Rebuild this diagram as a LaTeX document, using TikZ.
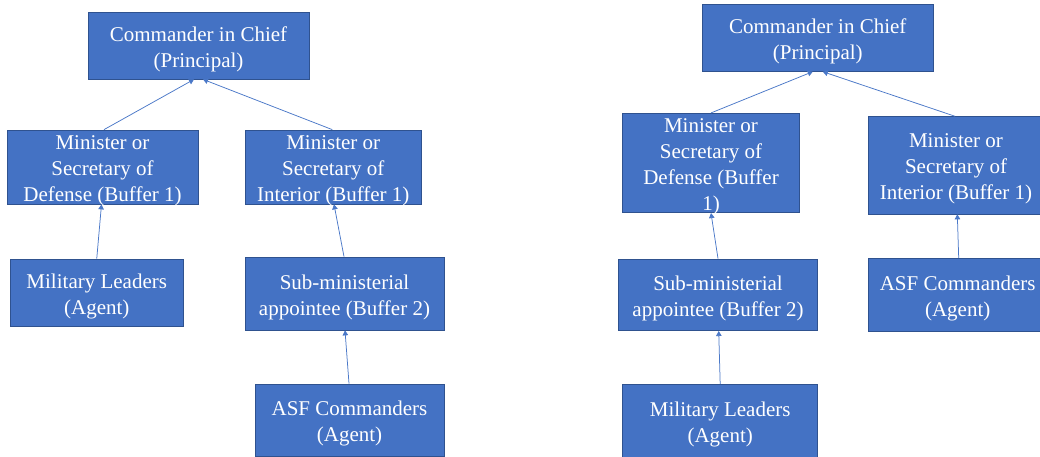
\documentclass[tikz,border=0pt]{standalone}
\usepackage{fontspec}
\setmainfont{Liberation Serif}
\usetikzlibrary{arrows.meta}
\definecolor{boxfill}{HTML}{4472C4}
\definecolor{boxline}{HTML}{2F528F}
\definecolor{linkcol}{HTML}{4A78C8}
\tikzset{
  role/.style={draw=boxline, fill=boxfill, line width=0.75pt, inner sep=0pt},
  roletext/.style={inner sep=0pt, text=white, align=center, yshift=-3.5pt,
    font=\fontsize{21}{26}\selectfont},
  link/.style={draw=linkcol, line width=0.75pt,
    -{Triangle[width=5.5pt,length=5pt]}}
}
% filled box, its text set slightly below the geometric centre
\newcommand{\rolebox}[5]{%
  \node[role, minimum width=#3pt, minimum height=#4pt,
        label={[roletext]center:{#5}}] (#1) at (#2) {};}
\begin{document}
\begin{tikzpicture}[x=1pt,y=-1pt]
\useasboundingbox (0,0) rectangle (1040,457);
\clip (0,0) rectangle (1040,457);
\fill[white] (0,0) rectangle (1040,457);

% ---- left hierarchy ----
\rolebox{cinc1}{198.5,45.5}{221}{67}{Commander in Chief\\(Principal)}
\rolebox{mdef1}{102.5,167}{191}{74}{Minister or\\Secretary of\\Defense (Buffer 1)}
\rolebox{mint1}{333.25,167}{176.5}{74}{Minister or\\Secretary of\\Interior (Buffer 1)}
\rolebox{mil1}{96.75,292.75}{173.5}{67.5}{Military Leaders\\(Agent)}
\rolebox{sub1}{344.5,293.5}{199}{73}{Sub-ministerial\\appointee (Buffer 2)}
\rolebox{asf1}{349.5,420}{189}{72}{ASF Commanders\\(Agent)}

\draw[link] ([xshift=1.5pt]mdef1.north) -- ([xshift=-4.5pt]cinc1.south);
\draw[link] ([xshift=-1pt]mint1.north) -- ([xshift=4.5pt]cinc1.south);
\draw[link] (mil1.north) -- ([xshift=-1pt]mdef1.south);
\draw[link] ([xshift=-0.5pt]sub1.north) -- ([xshift=0.75pt]mint1.south);
\draw[link] ([xshift=-0.5pt]asf1.north) -- ([xshift=0.5pt]sub1.south);

% ---- right hierarchy ----
\rolebox{cinc2}{817.75,37.8}{231.5}{67}{Commander in Chief\\(Principal)}
\rolebox{mdef2}{711,163}{176.6}{99.4}{Minister or\\Secretary of\\Defense (Buffer\\1)}
\rolebox{mint2}{956,165.3}{175.4}{97.3}{Minister or\\Secretary of\\Interior (Buffer 1)}
\rolebox{sub2}{718,294.8}{199.4}{71.7}{Sub-ministerial\\appointee (Buffer 2)}
\rolebox{asf2}{957.7,294.7}{178}{72.7}{ASF Commanders\\(Agent)}
\rolebox{mil2}{720.2,421}{195}{73}{Military Leaders\\(Agent)}

\draw[link] (mdef2.north) -- ([xshift=-5pt]cinc2.south);
\draw[link] ([xshift=-1pt]mint2.north) -- ([xshift=5pt]cinc2.south);
\draw[link] (sub2.north) -- (mdef2.south);
\draw[link] ([xshift=1pt]asf2.north) -- ([xshift=1.3pt]mint2.south);
\draw[link] (mil2.north) -- ([xshift=0.7pt]sub2.south);
\end{tikzpicture}
\end{document}
